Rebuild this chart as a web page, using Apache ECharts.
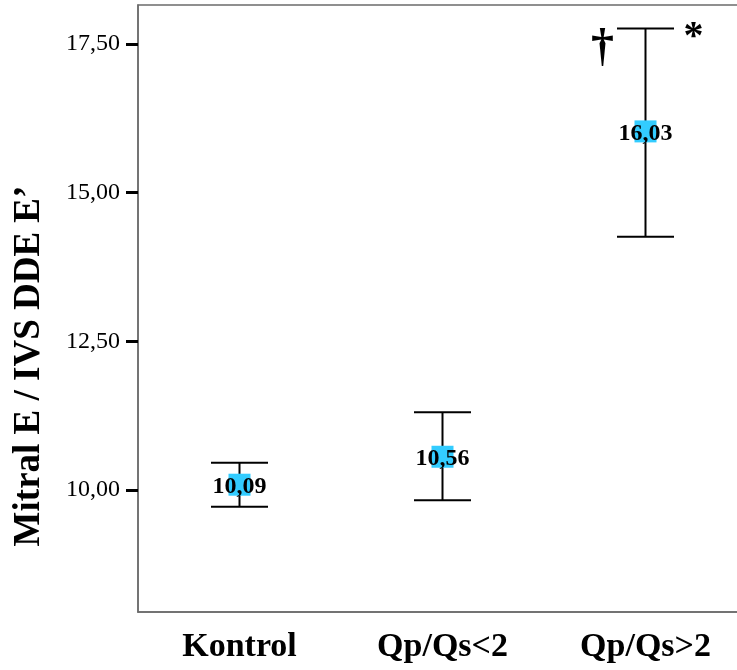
<!DOCTYPE html>
<html>
<head>
<meta charset="utf-8">
<script src="https://cdn.jsdelivr.net/npm/echarts@6/dist/echarts.min.js"></script>
<style>html,body{margin:0;padding:0;background:#fff}#c{width:737px;height:670px}</style>
</head>
<body>
<div id="c"></div>
<script>
var categories = ['Kontrol', 'Qp/Qs<2', 'Qp/Qs>2'];
var means = [10.09, 10.56, 16.03];
var lowers = [9.72, 9.83, 14.26];
var uppers = [10.46, 11.31, 17.76];
var yTicks = [10, 12.5, 15, 17.5];
var yMin = 7.95, yMax = 18.155;
var annotLeft = ['', '', '\u2020'];
var annotRight = ['', '', '*'];
var yTitle = 'Mitral E / IVS DDE E\u2019';

var SERIF = '"Liberation Serif", "Times New Roman", serif';
function fmt(v){ return v.toFixed(2).replace('.', ','); }

var chart = echarts.init(document.getElementById('c'));
chart.setOption({
  animation: false,
  grid: { left: 138, top: 5, right: -10, bottom: 58, outerBoundsMode: 'none', containLabel: false, show: true, borderColor: '#6b6b6b', borderWidth: 1.5, backgroundColor: 'transparent' },
  xAxis: {
    type: 'category', data: categories,
    axisLine: { lineStyle: { color: '#6b6b6b', width: 1.5 } },
    axisTick: { alignWithLabel: true, length: 11, lineStyle: { color: '#000', width: 4 } },
    axisLabel: { fontFamily: SERIF, fontWeight: 'bold', fontSize: 34, color: '#000', margin: 18 }
  },
  yAxis: {
    type: 'value', min: yMin, max: yMax,
    splitLine: { show: false },
    axisLine: { show: true, lineStyle: { color: '#6b6b6b', width: 1.5 } },
    axisTick: { show: true, length: 12, customValues: yTicks, lineStyle: { color: '#000', width: 3 } },
    axisLabel: { customValues: yTicks, fontFamily: SERIF, fontSize: 24, color: '#000', margin: 18, formatter: function(v){ return fmt(v); } }
  },
  graphic: [{
    type: 'text', x: 29, y: 366, rotation: Math.PI / 2,
    style: { text: yTitle, font: 'bold 37px ' + SERIF, fill: '#000', textAlign: 'center', textVerticalAlign: 'middle' }
  }],
  series: [
    {
      type: 'custom', z: 2,
      data: categories.map(function(c, i){ return [i, lowers[i], uppers[i]]; }),
      renderItem: function(params, api){
        var i = api.value(0);
        var lo = api.coord([i, api.value(1)]);
        var hi = api.coord([i, api.value(2)]);
        var hw = 28.5;
        var st = { stroke: '#000', lineWidth: 2 };
        var kids = [
          { type: 'line', shape: { x1: lo[0], y1: lo[1], x2: hi[0], y2: hi[1] }, style: st },
          { type: 'line', shape: { x1: lo[0]-hw, y1: lo[1], x2: lo[0]+hw, y2: lo[1] }, style: st },
          { type: 'line', shape: { x1: hi[0]-hw, y1: hi[1], x2: hi[0]+hw, y2: hi[1] }, style: st }
        ];
        if (annotLeft[i]) kids.push({ type: 'text', x: hi[0]-43, y: hi[1]-3, style: { text: annotLeft[i], font: 'bold 46px ' + SERIF, fill: '#000', textAlign: 'center', textVerticalAlign: 'top' } });
        if (annotRight[i]) kids.push({ type: 'text', x: hi[0]+48, y: hi[1]-11, style: { text: annotRight[i], font: 'bold 40px ' + SERIF, fill: '#000', textAlign: 'center', textVerticalAlign: 'top' } });
        return { type: 'group', children: kids };
      }
    },
    {
      type: 'scatter', z: 3, data: means,
      symbol: 'rect', symbolSize: 22,
      itemStyle: { color: '#33CCFF', opacity: 1 },
      label: { show: true, position: 'inside', offset: [0, 2], fontFamily: SERIF, fontWeight: 'bold', fontSize: 24, color: '#000', formatter: function(p){ return fmt(p.value); } }
    }
  ]
});
</script>
</body>
</html>
